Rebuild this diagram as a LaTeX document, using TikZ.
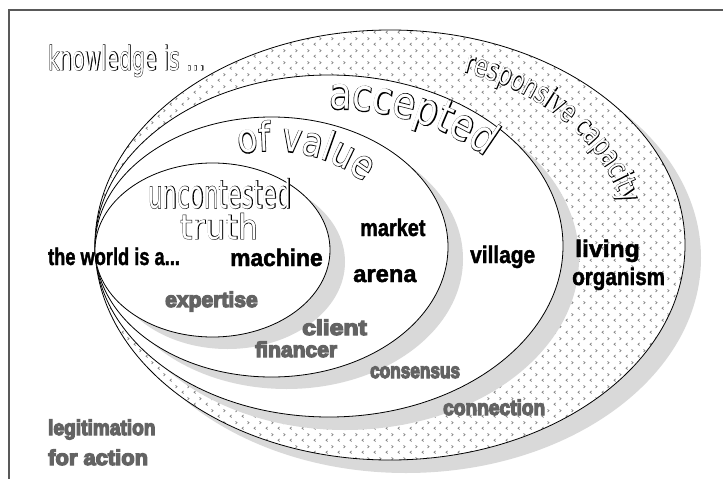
\documentclass[tikz,border=0pt]{standalone}
\usepackage{fontspec}
\usetikzlibrary{patterns,decorations.text}

% Fonts: outlined lettering is built from an emboldened black layer
% with a plain white layer on top of it.
\newfontfamily\dv{DejaVu Sans}
\newfontfamily\dvb[FakeBold=2.6]{DejaVu Sans}
\newfontfamily\dvm[FakeStretch=0.82]{DejaVu Sans}
\newfontfamily\dvmb[FakeStretch=0.82,FakeBold=3.2]{DejaVu Sans}
\newfontfamily\dvn[FakeStretch=0.72]{DejaVu Sans}
\newfontfamily\dvnb[FakeStretch=0.72,FakeBold=3.0]{DejaVu Sans}
\newfontfamily\lsans[BoldFeatures={FakeBold=1.8}]{Liberation Sans}
\newfontfamily\lheavy[BoldFeatures={FakeBold=6}]{Liberation Sans}

\definecolor{frameline}{HTML}{595959}
\definecolor{shadowgray}{HTML}{D9D9D9}
\definecolor{dotgray}{HTML}{858585}
\definecolor{labelgray}{HTML}{636363}

% chevron marks for the outer band
\pgfdeclarepatternformonly{chevrons}{\pgfqpoint{0pt}{0pt}}{\pgfqpoint{12pt}{12pt}}{\pgfqpoint{12pt}{12pt}}{%
  \pgfsetlinewidth{0.8pt}%
  \pgfpathmoveto{\pgfqpoint{3.9pt}{4.4pt}}%
  \pgfpathlineto{\pgfqpoint{2.2pt}{3pt}}%
  \pgfpathlineto{\pgfqpoint{3.9pt}{1.6pt}}%
  \pgfpathmoveto{\pgfqpoint{8.1pt}{10.4pt}}%
  \pgfpathlineto{\pgfqpoint{9.8pt}{9pt}}%
  \pgfpathlineto{\pgfqpoint{8.1pt}{7.6pt}}%
  \pgfusepath{stroke}}

\newcommand\hollow[1]{\rlap{\dvb\color{black}#1}{\dv\color{white}#1}}

\begin{document}
\begin{tikzpicture}[x=1pt, y=1pt,
  ring/.style={draw=black, line width=0.8pt, fill=white},
  dropshadow/.style={fill=shadowgray},
  blacklabel/.style={anchor=base west, inner sep=0pt,
    font=\lsans\bfseries\fontsize{24}{24}\selectfont, text=black},
  graylabel/.style={anchor=base west, inner sep=0pt,
    font=\lheavy\bfseries\fontsize{21.5}{21.5}\selectfont, text=labelgray},
  hollowlabel/.style={anchor=base west, inner sep=0pt,
    font=\fontsize{#1}{#1}\selectfont},
]
\useasboundingbox (0,0) rectangle (723,-479);

% frame
\draw[frameline, line width=1.3pt] (9,-485) -- (9,-10) -- (730,-10);

% centres of the four nested ellipses
\coordinate (cA) at (390,-245);
\coordinate (cB) at (329,-246);
\coordinate (cC) at (271.5,-247);
\coordinate (cD) at (212.5,-250);

% outer ellipse: responsive capacity
\fill[dropshadow] ([shift={(16,-13)}]cA) ellipse [x radius=295pt, y radius=215pt];
\fill[white] (cA) ellipse [x radius=295pt, y radius=215pt];
\fill[pattern=chevrons, pattern color=dotgray] (cA) ellipse [x radius=295pt, y radius=215pt];
\draw[line width=0.8pt] (cA) ellipse [x radius=295pt, y radius=215pt];

% accepted
\fill[dropshadow] ([shift={(16,-13)}]cB) ellipse [x radius=234pt, y radius=171pt];
\path[ring] (cB) ellipse [x radius=234pt, y radius=171pt];

% of value
\fill[dropshadow] ([shift={(15,-12)}]cC) ellipse [x radius=176.5pt, y radius=130pt];
\path[ring] (cC) ellipse [x radius=176.5pt, y radius=130pt];

% uncontested truth
\fill[dropshadow] ([shift={(15,-12)}]cD) ellipse [x radius=117.5pt, y radius=87pt];
\path[ring] (cD) ellipse [x radius=117.5pt, y radius=87pt];

% outlined headings
\node[hollowlabel=33, xscale=0.61] (knowledge) at (48,-70) {\hollow{knowledge is ...}};
\node[hollowlabel=39, xscale=0.59] (uncontested) at (148,-208) {\hollow{uncontested}};
\node[hollowlabel=34, xscale=0.93] (truth) at (180,-239) {\hollow{truth}};

% curved outlined headings (black layer, then white layer)
\foreach \fnt/\col in {\dvmb/black, \dvm/white} {
  \path[decorate, decoration={text along path, text align=left,
      text={|\fnt\fontsize{40}{40}\selectfont\color{\col}|of value}}]
    ([shift={(271.5,-247)}]105:125pt and 96pt)
    arc [start angle=105, end angle=-10, x radius=125pt, y radius=96pt];
  \path[decorate, decoration={text along path, text align=left,
      text={|\fnt\fontsize{44}{44}\selectfont\color{\col}|accepted}}]
    ([shift={(329,-246)}]90:206pt and 137pt)
    arc [start angle=90, end angle=-10, x radius=206pt, y radius=137pt];
}
\foreach \fnt/\col in {\dvnb/black, \dvn/white} {
  \path[decorate, decoration={text along path, text align=left,
      text={|\fnt\fontsize{30}{30}\selectfont\color{\col}|responsive capacity}}]
    ([shift={(390,-245)}]72:238pt and 182pt)
    arc [start angle=72, end angle=-30, x radius=238pt, y radius=182pt];
}

% world views
\node[blacklabel, xscale=0.76] (world) at (48,-265) {the world is a...};
\node[blacklabel, xscale=0.95] (machine) at (230,-266) {machine};
\node[blacklabel, xscale=0.83] (market) at (360,-236) {market};
\node[blacklabel, xscale=0.99] (arena) at (353,-282) {arena};
\node[blacklabel, xscale=0.87] (village) at (470,-263) {village};
\node[blacklabel, xscale=1.03] (living) at (575,-257) {living};
\node[blacklabel, xscale=0.86] (organism) at (572,-285) {organism};

% legitimation
\node[graylabel, xscale=0.98] (expertise) at (165,-307) {expertise};
\node[graylabel, xscale=1.15] (client) at (302,-335) {client};
\node[graylabel, xscale=0.98] (financer) at (255,-357) {financer};
\node[graylabel, xscale=0.8] (consensus) at (370,-378) {consensus};
\node[graylabel, xscale=0.89] (connection) at (443,-415) {connection};
\node[graylabel, xscale=0.89] (legitimation) at (48,-435) {legitimation};
\node[graylabel, xscale=1.02] (foraction) at (48,-465) {for action};
\end{tikzpicture}
\end{document}
